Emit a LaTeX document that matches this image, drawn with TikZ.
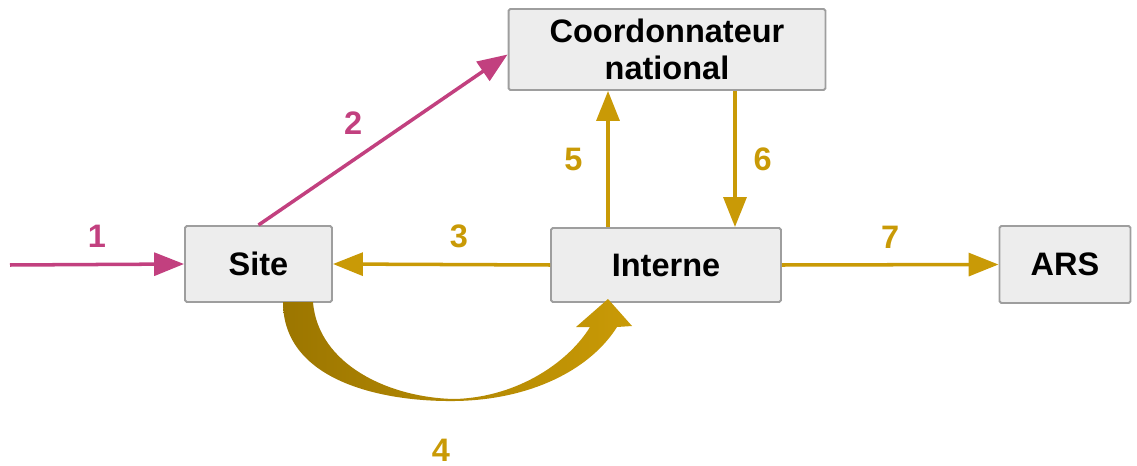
\documentclass[tikz,border=0pt]{standalone}
\usepackage{fontspec}
\setmainfont{Liberation Sans}
\usetikzlibrary{arrows.meta}
\definecolor{rose}{HTML}{C2407F}
\definecolor{ocre}{HTML}{C99A06}
\definecolor{ocrefonce}{HTML}{9C7600}
\definecolor{grisfond}{HTML}{EDEDED}
\definecolor{grisbord}{HTML}{9E9E9E}
\begin{document}
\begin{tikzpicture}[x=0.02cm, y=-0.02cm, >={Triangle[length=17pt,width=13pt]},
    boite/.style={draw=grisbord, fill=grisfond, line width=1.1pt, rounded corners=1pt,
        font=\fontsize{18.5}{21}\selectfont\bfseries, align=center},
    fleche/.style={->, line width=2pt},
    lbl/.style={font=\fontsize{18.5}{21}\selectfont\bfseries, inner sep=1pt}]
    \useasboundingbox (0,0) rectangle (1137,466);

    % Boites
    \node[boite, minimum width=2.94cm, minimum height=1.52cm] (site) at (258.5,264) {Site};
    \node[boite, minimum width=4.6cm, minimum height=1.48cm] (interne) at (666,265) {Interne};
    \node[boite, minimum width=2.62cm, minimum height=1.54cm] (ars) at (1065,264.5) {ARS};
    \node[boite, minimum width=6.34cm, minimum height=1.62cm] (coord) at (667,49.5) {Coordonnateur\\national};
    \coordinate (entree) at (10,265);

    % Fleches
    \draw[fleche, rose] (entree) -- (site.west) node[lbl, midway, above=0.26cm] (l1) {1};
    \draw[fleche, rose] (site.north) -- ([yshift=-0.1cm]coord.west) node[lbl, pos=0.38, above=0.44cm] (l2) {2};
    \draw[fleche, ocre] (interne.west) -- (site.east) node[lbl, pos=0.42, above=0.26cm] (l3) {3};
    \draw[fleche, ocre] ([xshift=-1.16cm]interne.north) -- ([xshift=-1.16cm]interne.north |- coord.south) node[lbl, midway, left=0.44cm] (l5) {5};
    \draw[fleche, ocre] ([xshift=1.38cm]interne.north |- coord.south) -- ([xshift=1.38cm]interne.north) node[lbl, midway, right=0.3cm] (l6) {6};
    \draw[fleche, ocre] (interne.east) -- (ars.west) node[lbl, midway, above=0.26cm] (l7) {7};

    % Fleche courbe
    \shade[left color=ocrefonce, right color=ocre] (283,302)
        .. controls (283,380) and (380,402) .. (455,401)
        .. controls (530,400) and (590,370) .. (617,327)
        -- (632,326) -- (608,299) -- (576,327) -- (590,327)
        .. controls (570,360) and (520,397) .. (455,399)
        .. controls (390,398) and (318,365) .. (313,302) -- cycle;
    \node[lbl, ocre, anchor=base] (l4) at (441,461) {4};
\end{tikzpicture}
\end{document}
